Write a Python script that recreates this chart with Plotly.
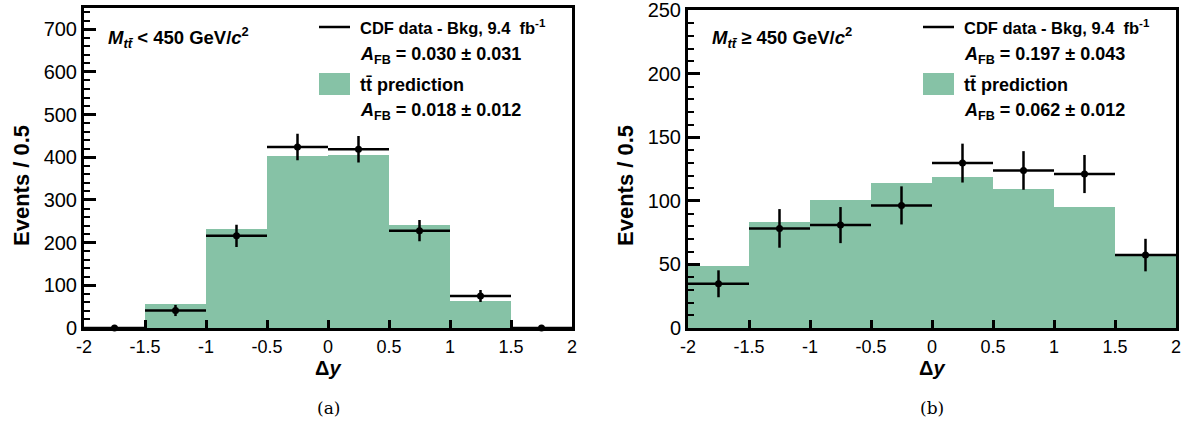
import plotly.graph_objects as go

# ---------------- data ----------------
bin_centers = [-1.75, -1.25, -0.75, -0.25, 0.25, 0.75, 1.25, 1.75]

pred_low = [0, 58, 232, 405, 407, 242, 65, 0]
data_low = [0, 41, 216, 424, 419, 228, 75, 0]
err_low = [0, 13, 26, 31, 31, 25, 14, 0]

pred_high = [48.5, 83.6, 100.7, 114.2, 118.6, 109.8, 95, 56.5]
data_high = [34.8, 78.4, 81, 96.5, 129.8, 124, 121.2, 57.4]
err_high = [10.6, 15.2, 14.2, 15, 15.3, 15.2, 15, 12.8]

x_ticks = [-2, -1.5, -1, -0.5, 0, 0.5, 1, 1.5, 2]
x_ticklabels = ["-2", "-1.5", "-1", "-0.5", "0", "0.5", "1", "1.5", "2"]

labels_low = {
    "mass": "<b><i>M</i><sub><i>tt̄</i></sub> &lt; 450 GeV/<i>c</i><sup>2</sup></b>",
    "afb_data": "<b><i>A</i><sub>FB</sub> = 0.030 ± 0.031</b>",
    "afb_pred": "<b><i>A</i><sub>FB</sub> = 0.018 ± 0.012</b>",
}
labels_high = {
    "mass": "<b><i>M</i><sub><i>tt̄</i></sub> ≥ 450 GeV/<i>c</i><sup>2</sup></b>",
    "afb_data": "<b><i>A</i><sub>FB</sub> = 0.197 ± 0.043</b>",
    "afb_pred": "<b><i>A</i><sub>FB</sub> = 0.062 ± 0.012</b>",
}

GREEN = "#86c2a6"
W, H = 1184, 424
FONT = "Liberation Sans"
SERIF = "DejaVu Serif"


def px(x):
    return x / W


def py(y):
    return 1 - y / H


fig = go.Figure()

panels = [
    dict(xa="x", ya="y", pred=pred_low, data=data_low, err=err_low, top=7.5,
         left=84, right=572, ymax=751, dtick=100, minor=20, lab=labels_low, tag="(a)"),
    dict(xa="x2", ya="y2", pred=pred_high, data=data_high, err=err_high, top=10,
         left=688, right=1176, ymax=250.3, dtick=50, minor=10, lab=labels_high, tag="(b)"),
]

bottom = 328

shapes = []
annotations = []

for i, p in enumerate(panels):
    fig.add_trace(go.Bar(
        x=bin_centers, y=p["pred"], width=0.5, marker=dict(color=GREEN, line=dict(width=0)),
        xaxis=p["xa"], yaxis=p["ya"], showlegend=False, name="tt̄ prediction"))
    fig.add_trace(go.Scatter(
        x=bin_centers, y=p["data"], mode="markers",
        marker=dict(color="black", size=7),
        error_x=dict(type="constant", value=0.25, thickness=2.5, width=0, color="black"),
        error_y=dict(type="data", array=p["err"], thickness=2.5, width=0, color="black"),
        xaxis=p["xa"], yaxis=p["ya"], showlegend=False, cliponaxis=False,
        name="CDF data - Bkg"))

    xkey = "xaxis" if i == 0 else "xaxis2"
    ykey = "yaxis" if i == 0 else "yaxis2"
    fig.update_layout(**{
        xkey: dict(domain=[px(p["left"]), px(p["right"])], range=[-2, 2], anchor=p["ya"],
                   tickvals=x_ticks, ticktext=x_ticklabels, ticks="inside", ticklen=8,
                   tickwidth=2.5, tickcolor="black", showline=True, linewidth=3,
                   linecolor="black", mirror=True, showgrid=False, zeroline=False,
                   ticklabeloverflow="allow",
                   tickfont=dict(family=FONT, size=18, color="black"), automargin=False),
        ykey: dict(domain=[py(bottom), py(p["top"])], range=[0, p["ymax"]], anchor=p["xa"],
                   dtick=p["dtick"], ticks="inside", ticklen=12, tickwidth=2.5,
                   tickcolor="black", showline=True, linewidth=3, linecolor="black",
                   mirror=True, showgrid=False, zeroline=False,
                   ticklabeloverflow="allow",
                   minor=dict(ticks="inside", ticklen=6, dtick=p["minor"], tickwidth=2,
                              tickcolor="black", showgrid=False),
                   tickfont=dict(family=FONT, size=20, color="black"), automargin=False),
    })

    off = p["left"] - 84
    # legend: line sample
    shapes.append(dict(type="line", xref="paper", yref="paper",
                       x0=px(319 + off), x1=px(350 + off), y0=py(27), y1=py(27),
                       line=dict(color="black", width=2.5)))
    # legend: box sample
    shapes.append(dict(type="rect", xref="paper", yref="paper",
                       x0=px(319 + off), x1=px(350 + off), y0=py(95), y1=py(73),
                       fillcolor=GREEN, line=dict(width=0)))
    tx = 358 + off
    lf = dict(family=FONT, size=18, color="black")
    annotations += [
        dict(x=px(tx), y=py(27), text="<b>CDF data - Bkg, 9.4  fb<sup>-1</sup></b>",
             font=dict(family=FONT, size=16.5, color="black")),
        dict(x=px(tx), y=py(56), text=p["lab"]["afb_data"], font=lf),
        dict(x=px(tx), y=py(85), text="<b>tt̄ prediction</b>", font=lf),
        dict(x=px(tx), y=py(112), text=p["lab"]["afb_pred"], font=lf),
        dict(x=px(106 + off), y=py(37), text=p["lab"]["mass"],
             font=dict(family=FONT, size=18.5, color="black")),
    ]
    cx = (p["left"] + p["right"]) / 2
    annotations.append(dict(x=px(cx), y=py(368), text="<b>Δ<i>y</i></b>",
                            xanchor="center", font=dict(family=FONT, size=20, color="black")))
    annotations.append(dict(x=px(cx), y=py(408), text=p["tag"], xanchor="center",
                            font=dict(family=SERIF, size=17, color="black")))
    annotations.append(dict(x=px(22 + off), y=py(186), text="<b>Events / 0.5</b>",
                            textangle=-90, xanchor="center",
                            font=dict(family=FONT, size=22, color="black")))

for a in annotations:
    a.setdefault("xref", "paper")
    a.setdefault("yref", "paper")
    a.setdefault("xanchor", "left")
    a.setdefault("yanchor", "middle")
    a.setdefault("showarrow", False)
    a.setdefault("font", dict(family=FONT, size=16, color="black"))

fig.update_layout(
    width=W, height=H, margin=dict(l=0, r=0, t=0, b=0),
    paper_bgcolor="white", plot_bgcolor="white",
    bargap=0, barmode="overlay", showlegend=False,
    shapes=shapes, annotations=annotations,
    font=dict(family=FONT, color="black"),
)

fig.write_html("out.html")
